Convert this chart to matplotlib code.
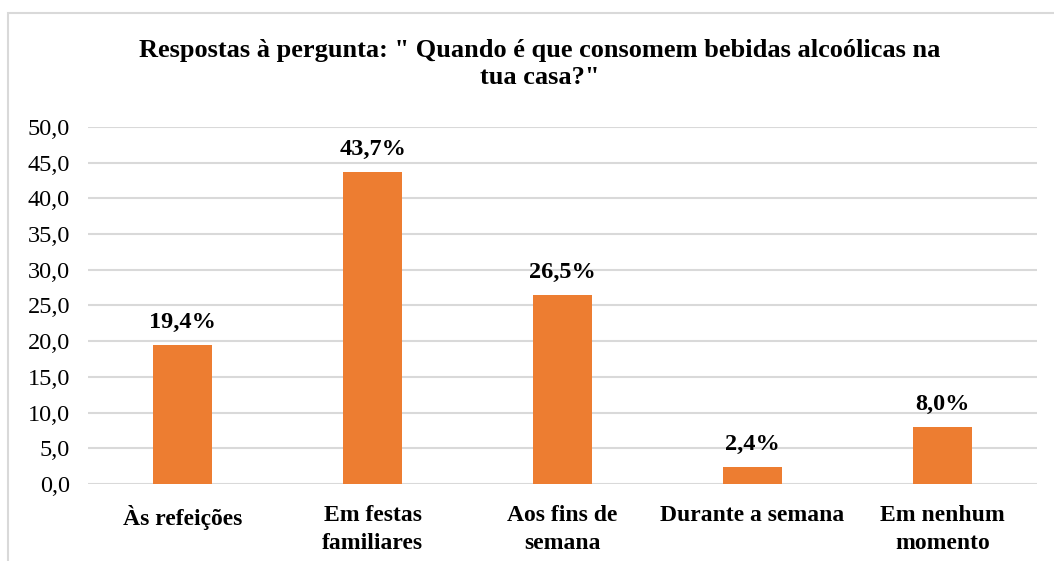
import matplotlib.pyplot as plt
from matplotlib.patches import Rectangle

CATEGORIES = ['Às refeições', 'Em festas\nfamiliares', 'Aos fins de\nsemana',
              'Durante a semana', 'Em nenhum\nmomento']
VALUES = [19.4, 43.7, 26.5, 2.4, 8.0]
Y_TICKS = [0, 5, 10, 15, 20, 25, 30, 35, 40, 45, 50]
TITLE = 'Respostas à pergunta: " Quando é que consomem bebidas alcoólicas na\ntua casa?"'

BAR_COLOR = '#ED7D31'
GRID_COLOR = '#D9D9D9'

plt.rcParams['font.family'] = 'serif'
plt.rcParams['font.serif'] = ['Liberation Serif', 'DejaVu Serif']

fig = plt.figure(figsize=(10.54, 5.61), dpi=100)
ax = fig.add_axes([0.0835, 0.1373, 0.9005, 0.6363])

x = list(range(len(VALUES)))
ax.bar(x, VALUES, width=0.31, color=BAR_COLOR, zorder=3)
for xi, v in zip(x, VALUES):
    ax.text(xi, v + 1.7, '{:.1f}%'.format(v).replace('.', ','), ha='center', va='bottom',
            fontsize=17.5, fontweight='bold')

ax.set_xlim(-0.5, len(VALUES) - 0.5)
ax.set_ylim(0, 50)
ax.set_yticks(Y_TICKS)
ax.set_yticklabels(['{:.1f}'.format(t).replace('.', ',') for t in Y_TICKS], fontsize=17.5)
ax.set_xticks(x)
ax.set_xticklabels(CATEGORIES, fontsize=17, fontweight='bold', linespacing=1.45)
ax.tick_params(axis='both', length=0)
ax.tick_params(axis='y', pad=13)
ax.tick_params(axis='x', pad=15)
ax.yaxis.grid(True, color=GRID_COLOR, linewidth=1.5, zorder=0)
for s in ax.spines.values():
    s.set_visible(False)

fig.text(0.512, 0.931, TITLE, ha='center', va='top', fontsize=19, fontweight='bold',
         linespacing=1.25)

# chart frame (top and left edges visible)
fig.patches.append(Rectangle((8 / 1054, -0.1), 1.2, 1.1 - 13 / 561, transform=fig.transFigure,
                             fill=False, edgecolor=GRID_COLOR, linewidth=1.5))

fig.savefig('out.png', dpi=100)
